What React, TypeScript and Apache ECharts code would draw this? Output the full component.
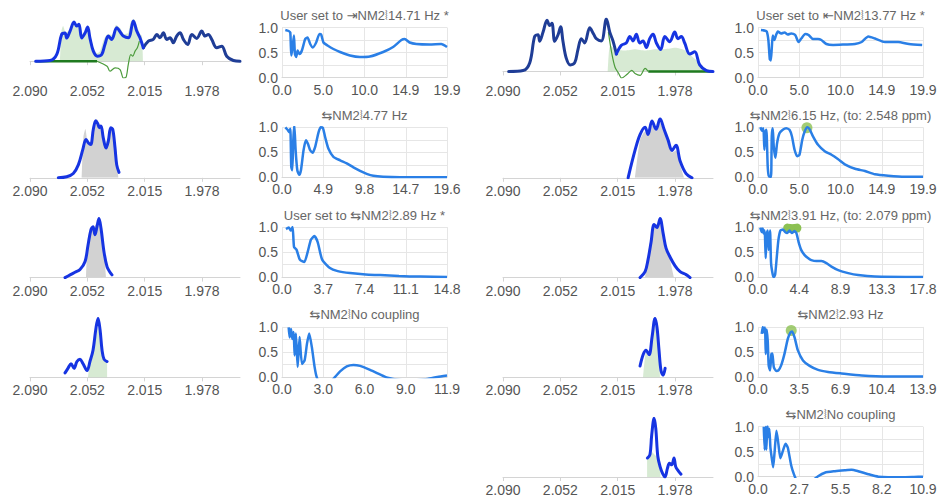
import React, { useEffect, useRef } from "react";
import * as echarts from "echarts";

const FONT = "'Liberation Sans', 'DejaVu Sans', sans-serif";

// ---------- spectrum tick labels ----------
const specTickVals = [2.09, 2.0525, 2.015, 1.9775];
const specTickLabels = ["2.090", "2.052", "2.015", "1.978"];
const SPEC_MIN = 1.9527;
const SPEC_MAX = 2.09;

// ---------- full spectrum (top panels) ----------
const specPpm = [2.0863, 2.0769, 2.0725, 2.0693, 2.0671, 2.066, 2.0638, 2.0612, 2.0595, 2.058, 2.0562, 2.054, 2.0523, 2.0508, 2.0486, 2.046, 2.0431, 2.041, 2.0388, 2.0366, 2.0333, 2.0307, 2.029, 2.0257, 2.0224, 2.0202, 2.0181, 2.0159, 2.0126, 2.0094, 2.0071, 2.005, 2.0028, 2.0006, 1.9984, 1.9963, 1.9941, 1.9919, 1.9897, 1.9869, 1.9842, 1.981, 1.9777, 1.9756, 1.9734, 1.9712, 1.9679, 1.9646, 1.9614, 1.957, 1.9527];
const specInt = [0, 0.7, 6.7, 26.7, 28, 23, 30, 39, 35, 36.7, 23, 28, 34, 23, 10, 5, 6.7, 16.7, 25, 21.7, 33.3, 28.3, 25, 23.3, 40, 30, 23.3, 13.3, 20, 21.7, 26.7, 23.3, 28.3, 21.7, 23.3, 18.3, 25, 28.3, 21.7, 16.7, 26.7, 22.7, 30, 25, 26.7, 21.7, 13.3, 15, 5, 0.7, 0];
const SPLIT = 27;

// L1 extras
const l1FillPpm = [2.0704, 2.0694, 2.0684, 2.0665, 2.0638, 2.0612, 2.0593, 2.0573, 2.0553, 2.0534, 2.0521, 2.0501, 2.0481, 2.0462, 2.0442, 2.0416, 2.039, 2.0364, 2.0338, 2.0311, 2.0285, 2.0259, 2.0239, 2.022, 2.02, 2.0181, 2.0168, 2.0161];
const l1FillInt = [0, 30, 35, 28, 32, 38, 34, 37, 26, 30, 33, 22, 12, 8, 10, 22, 27, 26, 36, 33, 27, 28, 40, 42, 35, 27, 25, 0];
const l1BasePpm = [2.0863, 2.0462];
const l1BaseInt = [0, 0];
const l1ResPpm = [2.0462, 2.0396, 2.0377, 2.0344, 2.0311, 2.029, 2.0272, 2.0257, 2.0241, 2.0228, 2.0213, 2.0198, 2.0185];
const l1ResInt = [0, -5, -10, -6.7, -8.3, -16.7, -16, -3, 6.7, 5, 10, 13.3, 20];

// R1 extras
const r1FillPpm = [2.0215, 2.02, 2.0167, 2.0102, 2.0037, 1.9971, 1.9906, 1.9841, 1.9775, 1.971, 1.9644, 1.9579, 1.9527];
const r1FillInt = [0, 20, 17, 16, 17, 16, 17, 17, 18, 16, 9.4, 2.4, 0];
const r1ResPpm = [2.0211, 2.0189, 2.0167, 2.0146, 2.0124, 2.0091, 2.0058, 2.0037, 2.0004, 1.9971, 1.995];
const r1ResInt = [30, 14, 3, -1, -5, -2.4, 0.8, -1.6, -3, 2.4, 0];
const r1BasePpm = [1.995, 1.9527];
const r1BaseInt = [0, 0];

// L2..L4
const l2Ppm = [2.0715, 2.066, 2.0617, 2.0584, 2.0555, 2.0534, 2.0518, 2.0503, 2.0486, 2.047, 2.0457, 2.0447, 2.0436, 2.0421, 2.0403, 2.0388, 2.0372, 2.0359, 2.0344, 2.0333, 2.0318];
const l2Int = [0, 1, 4.3, 12.7, 27.7, 37.7, 34.3, 32.7, 47.7, 56, 53.3, 49.3, 51, 39.3, 29.3, 36, 49.3, 47.7, 29.3, 12.7, 5.3];
const l2FillPpm = [2.0562, 2.0551, 2.0538, 2.0523, 2.0503, 2.0481, 2.0464, 2.0447, 2.0431, 2.041, 2.0388, 2.0368, 2.0351, 2.0333, 2.0322];
const l2FillInt = [0, 40, 48, 35, 34, 50, 58, 53, 50, 33, 40, 50, 40, 15, 0];

const l3Ppm = [2.0671, 2.0638, 2.0606, 2.0573, 2.054, 2.0521, 2.0501, 2.0488, 2.0475, 2.0462, 2.0449, 2.0436, 2.0416, 2.0396, 2.0377, 2.0364];
const l3Int = [0, 2, 4, 6, 12, 24, 36, 38, 32, 38, 44, 37, 19, 8, 4, 2];
const l3FillPpm = [2.0534, 2.0521, 2.0495, 2.0468, 2.0449, 2.0423, 2.0403];
const l3FillInt = [0, 30, 36, 40, 44, 28, 0];

const l4Ppm = [2.0671, 2.0652, 2.0632, 2.0612, 2.0593, 2.0573, 2.0553, 2.0527, 2.0508, 2.0488, 2.0468, 2.0455, 2.0442, 2.0429, 2.0416, 2.0396];
const l4Int = [4, 8, 12, 8, 14, 16, 12, 6, 14, 24, 44, 52, 42, 24, 16, 14];
const l4FillPpm = [2.0521, 2.0508, 2.0475, 2.0455, 2.0436, 2.0416, 2.0396];
const l4FillInt = [0, 12, 30, 44, 26, 16, 14];

// R2..R5
const r2Ppm = [2.0082, 2.0037, 2.0004, 1.9971, 1.9952, 1.9926, 1.9899, 1.9873, 1.9847, 1.9821, 1.9795, 1.9769, 1.9742, 1.9703, 1.9664];
const r2Int = [0, 26, 41, 48, 41, 54, 46, 56, 46, 36, 26, 31, 16, 4, 0];
const r2FillPpm = [2.0037, 2.0004, 1.9971, 1.9952, 1.9926, 1.9899, 1.9873, 1.9847, 1.9821, 1.9795, 1.9769, 1.9742, 1.9716];
const r2FillInt = [0, 36, 44, 40, 50, 44, 52, 44, 34, 24, 26, 12, 0];

const r3Ppm = [2.0004, 1.9971, 1.9952, 1.9932, 1.9912, 1.9893, 1.9873, 1.9853, 1.9834, 1.9808, 1.9775, 1.9742, 1.9703, 1.9677];
const r3Int = [0, 4, 12, 24, 36, 34, 40, 30, 20, 14, 8, 4, 2, 0];
const r3FillPpm = [1.9971, 1.9938, 1.9906, 1.9873, 1.9841, 1.9808, 1.9782];
const r3FillInt = [0, 25, 35, 38, 25, 12, 0];

const r4Ppm = [2.0004, 1.9984, 1.9965, 1.9945, 1.9925, 1.9906, 1.9893, 1.988, 1.9867, 1.9853, 1.984];
const r4Int = [10, 20, 24, 20, 36, 52, 44, 24, 6, 2, 8];
const r4FillPpm = [1.9984, 1.9965, 1.9945, 1.9925, 1.9906, 1.9893, 1.988, 1.9873];
const r4FillInt = [0, 22, 18, 32, 46, 40, 20, 0];

const r5Ppm = [1.9956, 1.9939, 1.9928, 1.9912, 1.9901, 1.9888, 1.9873, 1.9856, 1.9841, 1.9825, 1.9812, 1.9797, 1.9782, 1.9771, 1.9754, 1.9736];
const r5Int = [18.3, 21.7, 40, 56.7, 46.7, 20, 10, 3.3, 0, 8.3, 13.3, 11.7, 18.3, 10, 6, 2.7];
const r5FillPpm = [1.9958, 1.9939, 1.9928, 1.9912, 1.9888, 1.9873, 1.987];
const r5FillInt = [18, 21, 24, 22, 18, 10, 0];

// ---------- J-coupling panels ----------
const ljTitles = ["User set to ⇥NM2⦚14.71 Hz *", "⇆NM2⦚4.77 Hz", "User set to ⇆NM2⦚2.89 Hz *", "⇆NM2⦚No coupling"];
const rjTitles = ["User set to ⇤NM2⦚13.77 Hz *", "⇆NM2⦚6.15 Hz, (to: 2.548 ppm)", "⇆NM2⦚3.91 Hz, (to: 2.079 ppm)", "⇆NM2⦚2.93 Hz", "⇆NM2⦚No coupling"];

const lj1Ticks = ["0.0", "5.0", "10.0", "14.9", "19.9"];
const lj2Ticks = ["0.0", "4.9", "9.8", "14.7", "19.6"];
const lj3Ticks = ["0.0", "3.7", "7.4", "11.1", "14.8"];
const lj4Ticks = ["0.0", "3.0", "6.0", "9.0", "11.9"];
const rj1Ticks = ["0.0", "5.0", "10.0", "14.9", "19.9"];
const rj2Ticks = ["0.0", "5.0", "10.0", "14.9", "19.9"];
const rj3Ticks = ["0.0", "4.4", "8.9", "13.3", "17.8"];
const rj4Ticks = ["0.0", "3.5", "6.9", "10.4", "13.9"];
const rj5Ticks = ["0.0", "2.7", "5.5", "8.2", "10.9"];
const yTickLabels = ["0.0", "0.5", "1.0"];

const lj1Hz = [0.4, 0.8, 1.0, 1.12, 1.28, 1.44, 1.56, 1.72, 1.88, 2.12, 2.4, 2.8, 3.08, 3.4, 3.72, 4.12, 4.52, 4.72, 5.0, 5.49, 6.2, 7.0, 8.2, 9.4, 10.6, 12.2, 13.4, 14.4, 14.8, 15.4, 16.2, 17.8, 19.2, 19.9];
const lj1Val = [0.95, 0.93, 0.9, 0.44, 0.6, 0.84, 0.47, 0.41, 0.54, 0.47, 0.54, 0.77, 0.8, 0.67, 0.6, 0.7, 0.87, 0.86, 0.7, 0.64, 0.57, 0.51, 0.44, 0.41, 0.42, 0.51, 0.61, 0.75, 0.77, 0.7, 0.67, 0.66, 0.67, 0.61];

const lj2Hz = [0.4, 0.67, 0.87, 0.99, 1.1, 1.22, 1.34, 1.46, 1.62, 1.82, 2.05, 2.25, 2.56, 2.84, 3.08, 3.35, 3.63, 3.94, 4.34, 4.61, 4.85, 5.13, 5.52, 6.11, 6.9, 7.69, 8.48, 9.27, 10.06, 10.85, 12.0, 14.0, 19.6];
const lj2Val = [1.0, 0.95, 0.9, 0.97, 0.21, 0.14, 0.74, 1.05, 0.54, 0.14, 0.05, 0.14, 0.54, 0.74, 0.67, 0.54, 0.49, 0.61, 0.9, 1.0, 0.99, 0.8, 0.57, 0.41, 0.34, 0.28, 0.2, 0.13, 0.07, 0.03, 0.01, 0, 0];

const lj3Hz = [0.36, 0.6, 0.8, 0.95, 1.08, 1.3, 1.6, 2.0, 2.3, 2.6, 2.9, 3.2, 3.6, 4.3, 5.0, 6.1, 7.5, 8.8, 10.5, 12.4, 14.8];
const lj3Val = [0.96, 0.99, 0.93, 1.0, 0.6, 0.55, 0.35, 0.3, 0.5, 0.75, 0.82, 0.7, 0.35, 0.18, 0.12, 0.08, 0.05, 0.04, 0.02, 0.01, 0];

const lj4Hz = [0.48, 0.55, 0.65, 0.74, 0.84, 0.91, 1.0, 1.13, 1.27, 1.44, 1.63, 1.8, 1.96, 2.15, 2.35, 2.51, 2.8, 3.3, 3.83, 4.19, 4.67, 5.15, 5.63, 6.35, 7.06, 7.54, 8.5, 9.5, 10.5, 11.2, 11.9];
const lj4Val = [0.99, 0.79, 0.96, 0.76, 0.9, 0.43, 0.87, 0.2, 0.8, 0.26, 0.33, 0.66, 0.87, 0.6, 0.2, -0.01, -0.15, -0.15, 0, 0.11, 0.21, 0.24, 0.22, 0.14, 0.05, -0.01, -0.06, -0.07, -0.04, 0.0, 0.03];

const rj1Hz = [0.36, 0.77, 1.05, 1.25, 1.42, 1.54, 1.66, 1.78, 1.98, 2.18, 2.39, 2.79, 3.2, 3.6, 4.0, 4.49, 4.89, 5.22, 5.7, 6.1, 6.63, 7.24, 7.64, 8.25, 9.06, 10.5, 11.7, 12.5, 13.3, 14.1, 15.3, 16.9, 18.2, 19.8];
const rj1Val = [0.95, 0.94, 0.92, 0.75, 0.37, 0.34, 0.58, 0.84, 0.75, 0.85, 0.92, 0.88, 0.9, 0.86, 0.88, 0.85, 0.71, 0.78, 0.87, 0.85, 0.77, 0.77, 0.75, 0.67, 0.65, 0.66, 0.67, 0.71, 0.82, 0.78, 0.71, 0.71, 0.67, 0.65];

const rj2Hz = [0.28, 0.49, 0.65, 0.77, 0.89, 1.01, 1.17, 1.29, 1.46, 1.58, 1.66, 1.78, 1.9, 2.1, 2.3, 2.59, 2.99, 3.4, 3.8, 4.09, 4.41, 4.73, 5.0, 5.34, 5.62, 5.95, 6.23, 6.63, 7.24, 8.05, 8.86, 9.67, 10.47, 11.7, 12.9, 14.1, 15.7, 17.7, 19.9];
const rj2Val = [1.0, 0.93, 0.98, 0.55, 0.91, 0.95, 0.22, 0.03, 0.01, 0.01, 0.82, 0.98, 0.62, 0.39, 0.68, 0.88, 0.95, 0.98, 0.95, 0.82, 0.55, 0.42, 0.45, 0.75, 0.91, 1.0, 0.96, 0.82, 0.65, 0.52, 0.45, 0.36, 0.26, 0.17, 0.125, 0.06, 0.03, 0.01, 0.01];

const rj3Hz = [0.25, 0.4, 0.51, 0.62, 0.72, 0.83, 0.94, 1.05, 1.16, 1.3, 1.41, 1.59, 1.7, 1.85, 2.03, 2.2, 2.42, 2.68, 2.93, 3.15, 3.4, 3.65, 3.94, 4.16, 4.38, 4.67, 5.03, 5.39, 5.75, 6.3, 6.84, 7.38, 7.92, 8.65, 9.73, 10.8, 12.6, 17.8];
const rj3Val = [0.99, 0.9, 0.97, 0.87, 0.93, 0.38, 0.87, 0.93, 0.54, 0.93, 0.28, 0.05, 0, 0.05, 0.41, 0.74, 0.93, 0.95, 0.9, 0.88, 0.93, 0.88, 0.92, 0.87, 0.7, 0.54, 0.44, 0.38, 0.34, 0.32, 0.32, 0.28, 0.21, 0.14, 0.08, 0.04, 0.01, 0];

const rj4Hz = [0.31, 0.4, 0.48, 0.59, 0.65, 0.73, 0.82, 0.9, 1.02, 1.13, 1.21, 1.33, 1.53, 1.72, 1.95, 2.23, 2.51, 2.74, 2.88, 3.08, 3.36, 3.79, 4.35, 5.06, 5.9, 7.03, 8.73, 11.0, 13.9];
const rj4Val = [0.86, 1.0, 0.89, 0.99, 0.46, 0.95, 0.72, 0.23, 0.13, 0.46, 0.47, 0.2, 0.12, 0.13, 0.23, 0.46, 0.76, 0.89, 0.91, 0.79, 0.53, 0.33, 0.22, 0.14, 0.1, 0.07, 0.03, 0.01, 0.01];

const rj5Hz = [0.38, 0.44, 0.51, 0.55, 0.62, 0.69, 0.75, 0.82, 0.91, 1.0, 1.09, 1.22, 1.35, 1.48, 1.64, 1.82, 1.97, 2.19, 2.37, 2.53, 3.0, 3.5, 3.97, 4.41, 5.08, 5.74, 6.18, 6.62, 7.29, 7.95, 8.6, 9.5, 10.3, 10.9];
const rj5Val = [1.0, 0.54, 1.0, 0.54, 1.02, 0.79, 0.96, 0.58, 0.37, 0.19, 0.47, 0.92, 0.65, 0.37, 0.51, 0.66, 0.58, 0.23, 0.05, -0.06, -0.2, -0.1, 0.01, 0.08, 0.11, 0.13, 0.14, 0.11, 0.05, 0, -0.01, -0.01, -0.005, 0];

// selected-peak markers
const rj2MarkHz = [5.9];
const rj2MarkVal = [0.99];
const rj3MarkHz = [3.2, 3.7, 4.2];
const rj3MarkVal = [0.98, 0.97, 0.98];
const rj4MarkHz = [2.8];
const rj4MarkVal = [0.93];

// ---------- styling / layout ----------
const BRIGHT = "#1634e2";
const NAVY = "#1f3d96";
const JBLUE = "#2a7fe6";
const GRAY_FILL = "#d2d2d2";
const GREEN_FILL = "rgba(150,200,140,0.38)";
const GREEN_DARK = "#1f7a1f";
const GREEN_THIN = "#4b9b3b";
const MARK = "#8cc152";
const LABEL = "#555";

const ROW_H = 99.8;
const SPEC_LEFT = [30, 503];
const SPEC_W = 210;
const J_LEFT = [282, 758];
const J_W = 165;

const zip = (a: number[], b: number[]) => a.map((v, i) => [v, b[i]]);

type Trace = { ppm: number[]; val: number[]; kind: "fill" | "gray" | "bright" | "navy" | "base" | "res" };

const specPanels: { col: number; row: number; traces: Trace[] }[] = [
  {
    col: 0, row: 0, traces: [
      { ppm: l1FillPpm, val: l1FillInt, kind: "fill" },
      { ppm: l1BasePpm, val: l1BaseInt, kind: "base" },
      { ppm: l1ResPpm, val: l1ResInt, kind: "res" },
      { ppm: specPpm.slice(SPLIT), val: specInt.slice(SPLIT), kind: "navy" },
      { ppm: specPpm.slice(0, SPLIT + 1), val: specInt.slice(0, SPLIT + 1), kind: "bright" },
    ],
  },
  { col: 0, row: 1, traces: [{ ppm: l2FillPpm, val: l2FillInt, kind: "gray" }, { ppm: l2Ppm, val: l2Int, kind: "bright" }] },
  { col: 0, row: 2, traces: [{ ppm: l3FillPpm, val: l3FillInt, kind: "gray" }, { ppm: l3Ppm, val: l3Int, kind: "bright" }] },
  { col: 0, row: 3, traces: [{ ppm: l4FillPpm, val: l4FillInt, kind: "fill" }, { ppm: l4Ppm, val: l4Int, kind: "bright" }] },
  {
    col: 1, row: 0, traces: [
      { ppm: r1FillPpm, val: r1FillInt, kind: "fill" },
      { ppm: r1BasePpm, val: r1BaseInt, kind: "base" },
      { ppm: r1ResPpm, val: r1ResInt, kind: "res" },
      { ppm: specPpm.slice(0, SPLIT + 1), val: specInt.slice(0, SPLIT + 1), kind: "navy" },
      { ppm: specPpm.slice(SPLIT), val: specInt.slice(SPLIT), kind: "bright" },
    ],
  },
  { col: 1, row: 1, traces: [{ ppm: r2FillPpm, val: r2FillInt, kind: "gray" }, { ppm: r2Ppm, val: r2Int, kind: "bright" }] },
  { col: 1, row: 2, traces: [{ ppm: r3FillPpm, val: r3FillInt, kind: "gray" }, { ppm: r3Ppm, val: r3Int, kind: "bright" }] },
  { col: 1, row: 3, traces: [{ ppm: r4FillPpm, val: r4FillInt, kind: "fill" }, { ppm: r4Ppm, val: r4Int, kind: "bright" }] },
  { col: 1, row: 4, traces: [{ ppm: r5FillPpm, val: r5FillInt, kind: "fill" }, { ppm: r5Ppm, val: r5Int, kind: "bright" }] },
];

const jPanels = [
  { col: 0, row: 0, title: ljTitles[0], hz: lj1Hz, val: lj1Val, ticks: lj1Ticks, mark: null as null | { hz: number[]; val: number[]; seg: boolean } },
  { col: 0, row: 1, title: ljTitles[1], hz: lj2Hz, val: lj2Val, ticks: lj2Ticks, mark: null },
  { col: 0, row: 2, title: ljTitles[2], hz: lj3Hz, val: lj3Val, ticks: lj3Ticks, mark: null },
  { col: 0, row: 3, title: ljTitles[3], hz: lj4Hz, val: lj4Val, ticks: lj4Ticks, mark: null },
  { col: 1, row: 0, title: rjTitles[0], hz: rj1Hz, val: rj1Val, ticks: rj1Ticks, mark: null },
  { col: 1, row: 1, title: rjTitles[1], hz: rj2Hz, val: rj2Val, ticks: rj2Ticks, mark: { hz: rj2MarkHz, val: rj2MarkVal, seg: false } },
  { col: 1, row: 2, title: rjTitles[2], hz: rj3Hz, val: rj3Val, ticks: rj3Ticks, mark: { hz: rj3MarkHz, val: rj3MarkVal, seg: true } },
  { col: 1, row: 3, title: rjTitles[3], hz: rj4Hz, val: rj4Val, ticks: rj4Ticks, mark: { hz: rj4MarkHz, val: rj4MarkVal, seg: false } },
  { col: 1, row: 4, title: rjTitles[4], hz: rj5Hz, val: rj5Val, ticks: rj5Ticks, mark: null },
];

function buildOption() {
  const grid: any[] = [];
  const xAxis: any[] = [];
  const yAxis: any[] = [];
  const series: any[] = [];
  const graphic: any[] = [];

  specPanels.forEach((p) => {
    const gi = grid.length;
    grid.push({ left: SPEC_LEFT[p.col], top: 19 + p.row * ROW_H, width: SPEC_W, height: 59, containLabel: false });
    xAxis.push({
      type: "value", gridIndex: gi, inverse: true, min: SPEC_MIN, max: SPEC_MAX,
      axisLine: { show: true, lineStyle: { color: "#d4d4d4", width: 1 } },
      axisTick: { show: true, customValues: specTickVals, length: 4, lineStyle: { color: "#d4d4d4" } },
      axisLabel: {
        customValues: specTickVals, color: LABEL, fontSize: 14, fontFamily: FONT, margin: 6,
        formatter: (v: number) => {
          const i = specTickVals.findIndex((t) => Math.abs(t - v) < 1e-6);
          return i >= 0 ? specTickLabels[i] : "";
        },
      },
      splitLine: { show: false },
    });
    yAxis.push({ type: "value", gridIndex: gi, show: false, scale: true, min: "dataMin", max: "dataMax" });
    p.traces.forEach((t) => {
      const base: any = {
        type: "line", xAxisIndex: gi, yAxisIndex: gi, data: zip(t.ppm, t.val),
        showSymbol: false, symbol: "none", silent: true,
      };
      if (t.kind === "fill" || t.kind === "gray") {
        series.push({ ...base, smooth: 0.2, lineStyle: { width: 0, opacity: 0 }, areaStyle: { color: t.kind === "fill" ? GREEN_FILL : GRAY_FILL, opacity: 1 } });
      } else if (t.kind === "base") {
        series.push({ ...base, lineStyle: { width: 2.5, color: GREEN_DARK } });
      } else if (t.kind === "res") {
        series.push({ ...base, smooth: 0.3, lineStyle: { width: 1.2, color: GREEN_THIN } });
      } else {
        series.push({ ...base, smooth: 0.35, lineStyle: { width: 3, color: t.kind === "bright" ? BRIGHT : NAVY, cap: "round", join: "round" } });
      }
    });
  });

  jPanels.forEach((p) => {
    const gi = grid.length;
    const top = 27.5 + p.row * ROW_H;
    const left = J_LEFT[p.col];
    const max = parseFloat(p.ticks[p.ticks.length - 1]);
    const step = max / 4;
    grid.push({ left, top, width: J_W, height: 50, containLabel: false });
    xAxis.push({
      type: "value", gridIndex: gi, min: 0, max, interval: step,
      axisLine: { show: true, lineStyle: { color: "#d8d8d8" } },
      axisTick: { show: false },
      axisLabel: {
        color: LABEL, fontSize: 14, fontFamily: FONT, margin: 5, showMinLabel: true, showMaxLabel: true,
        formatter: (v: number) => {
          const i = Math.round(v / step);
          return i >= 0 && i < p.ticks.length ? p.ticks[i] : "";
        },
      },
      splitLine: { show: true, lineStyle: { color: "#e6e6e6", width: 1 } },
    });
    yAxis.push({
      type: "value", gridIndex: gi, min: 0, max: 1, interval: 0.25,
      axisLine: { show: false }, axisTick: { show: false },
      axisLabel: {
        color: LABEL, fontSize: 14, fontFamily: FONT, margin: 4,
        formatter: (v: number) => {
          const i = Math.round(v * 2);
          return Math.abs(v * 2 - i) < 1e-6 ? yTickLabels[i] : "";
        },
      },
      splitLine: { show: true, lineStyle: { color: "#e6e6e6", width: 1 } },
    });
    if (p.mark) {
      if (p.mark.seg) {
        series.push({
          type: "line", xAxisIndex: gi, yAxisIndex: gi, data: zip(p.mark.hz, p.mark.val), showSymbol: false, symbol: "none",
          silent: true, clip: false, lineStyle: { width: 9, color: MARK, cap: "round" }, z: 1,
        });
      } else {
        series.push({
          type: "scatter", xAxisIndex: gi, yAxisIndex: gi, data: zip(p.mark.hz, p.mark.val), symbolSize: 11,
          silent: true, clip: false, itemStyle: { color: MARK }, z: 1,
        });
      }
    }
    series.push({
      type: "line", xAxisIndex: gi, yAxisIndex: gi, data: zip(p.hz, p.val), showSymbol: false, symbol: "none",
      silent: true, smooth: 0.2, lineStyle: { width: 2.5, color: JBLUE, join: "round" }, z: 2,
    });
    graphic.push({
      type: "text", x: left + J_W / 2, y: top - 12,
      style: { text: p.title, align: "center", verticalAlign: "middle", fontSize: 13, fontFamily: FONT, fill: "#666" },
      silent: true,
    });
  });

  return { animation: false, backgroundColor: "#ffffff", grid, xAxis, yAxis, series, graphic };
}

export default function App() {
  const ref = useRef<HTMLDivElement>(null);
  useEffect(() => {
    if (!ref.current) return;
    const chart = echarts.init(ref.current, undefined, { renderer: "svg" });
    chart.setOption(buildOption() as any);
    return () => chart.dispose();
  }, []);
  return <div ref={ref} style={{ position: "absolute", left: 0, top: 0, width: 941, height: 497, background: "#fff" }} />;
}
